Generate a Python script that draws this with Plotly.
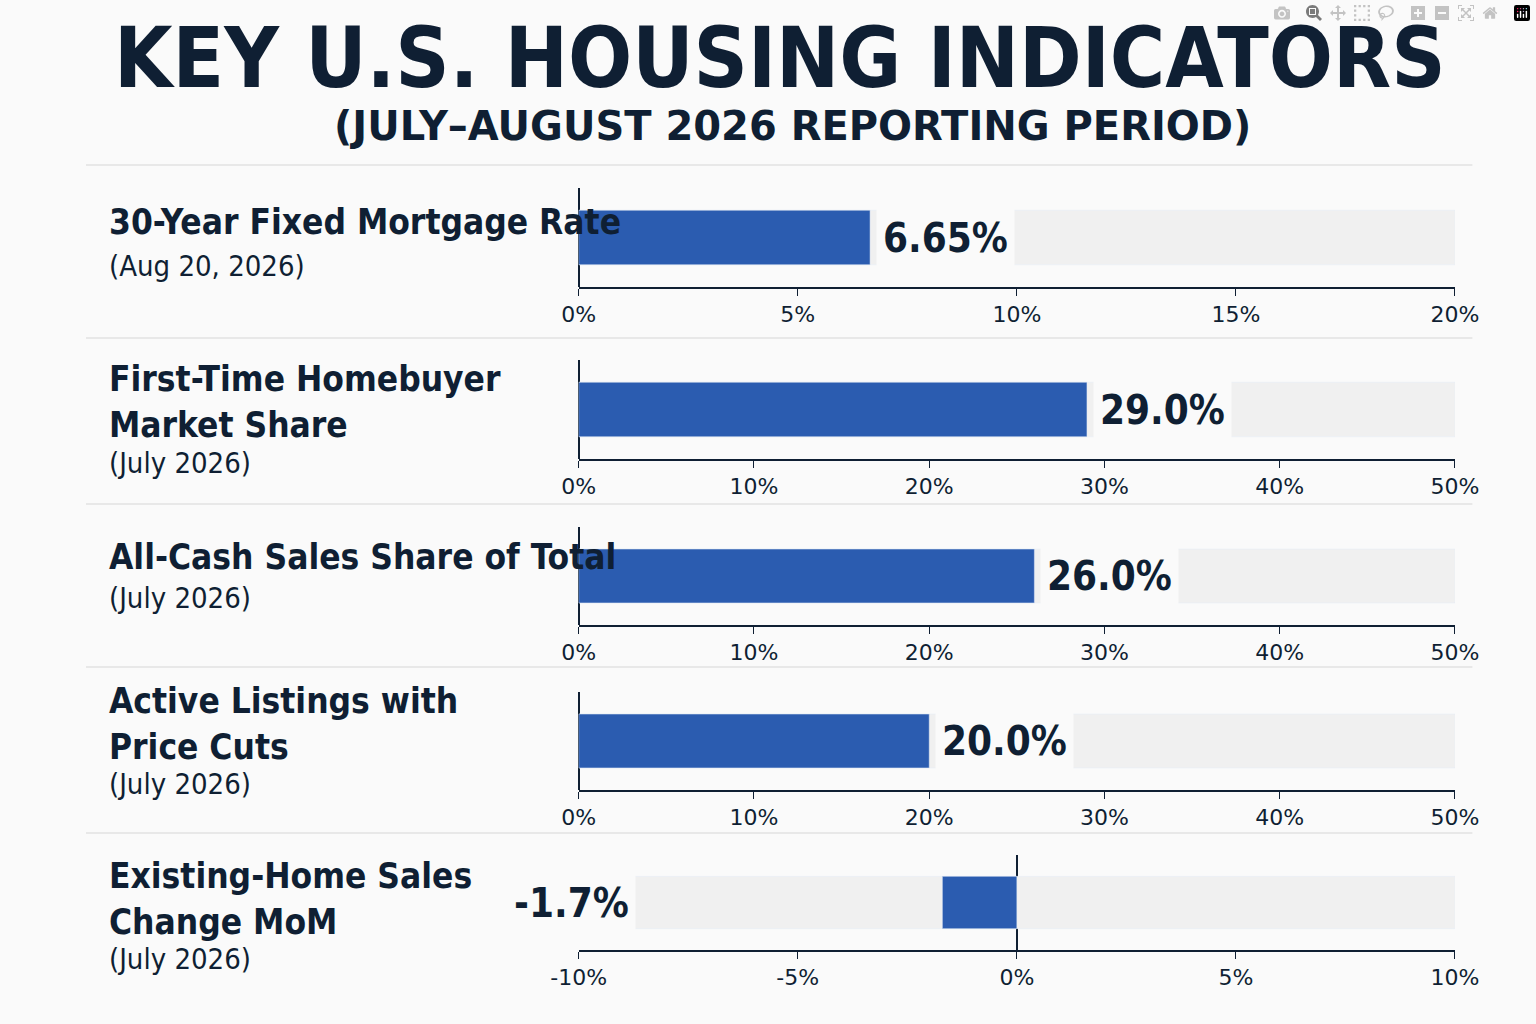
import plotly.graph_objects as go
from plotly.subplots import make_subplots

# data
titles = ["30-Year Fixed Mortgage Rate", "First-Time Homebuyer<br>Market Share",
          "All-Cash Sales Share of Total", "Active Listings with<br>Price Cuts",
          "Existing-Home Sales<br>Change MoM"]
periods = ["(Aug 20, 2026)", "(July 2026)", "(July 2026)", "(July 2026)", "(July 2026)"]
values = [6.65, 29.0, 26.0, 20.0, -1.7]
value_text = ["6.65%", "29.0%", "26.0%", "20.0%", "-1.7%"]
ranges = [[0, 20], [0, 50], [0, 50], [0, 50], [-10, 10]]
tick_vals = [[0, 5, 10, 15, 20], [0, 10, 20, 30, 40, 50], [0, 10, 20, 30, 40, 50],
             [0, 10, 20, 30, 40, 50], [-10, -5, 0, 5, 10]]

W, H = 1536, 1024
BG = "#fafafa"
BLUE = "#2b5cb0"
TRACK = "#f0f0f0"
DARK = "#0f1f33"
FONT = "Liberation Sans Narrow, DejaVu Sans Condensed, Roboto, sans-serif"

# pixel layout: (top of axes, axis line), title top, subtitle y
rows_px = [(188, 287, 200, 266), (360, 459, 357, 463), (527, 625, 535, 598),
           (692, 790, 679, 784), (855, 950, 854, 959)]
dividers = [165, 338, 504, 667, 833]

def py(p):
    return 1 - p / H

fig = make_subplots(rows=5, cols=1)
annotations = []
for i in range(5):
    r = i + 1
    lo, hi = ranges[i]
    fig.add_trace(go.Bar(x=[hi - lo], base=[lo], y=[0], orientation="h", width=0.55,
                         marker=dict(color=TRACK), hoverinfo="skip"), row=r, col=1)
    fig.add_trace(go.Bar(x=[values[i]], y=[0], orientation="h", width=0.55,
                         marker=dict(color=BLUE)), row=r, col=1)
    top, bot, ttop, sy = rows_px[i]
    xa = "xaxis" if r == 1 else f"xaxis{r}"
    ya = "yaxis" if r == 1 else f"yaxis{r}"
    fig.layout[ya].update(domain=[py(bot), py(top)], range=[-0.5, 0.5], visible=False)
    fig.layout[xa].update(domain=[570 / W, 1477 / W], range=[lo, hi], tickvals=tick_vals[i],
                          ticktext=[f"{v}%" for v in tick_vals[i]], ticks="outside", ticklen=7,
                          tickcolor=DARK, showline=True, linecolor=DARK, linewidth=1.5,
                          showgrid=False, zeroline=True, zerolinecolor=DARK, zerolinewidth=1.5,
                          tickfont=dict(size=22, color=DARK, family="DejaVu Sans, sans-serif"))
    xref = "x" if r == 1 else f"x{r}"
    yref = "y" if r == 1 else f"y{r}"
    if values[i] >= 0:
        annotations.append(dict(x=values[i], y=0, xref=xref, yref=yref, xanchor="left",
                                xshift=6, text=f"<b>{value_text[i]}</b>", showarrow=False,
                                bgcolor=BG, borderpad=6, font=dict(size=40, color=DARK, family=FONT)))
    else:
        annotations.append(dict(x=lo + 1.3, y=0, xref=xref, yref=yref, xanchor="right",
                                text=f"<b>{value_text[i]}</b>", showarrow=False,
                                bgcolor=BG, borderpad=6, font=dict(size=40, color=DARK, family=FONT)))
    annotations.append(dict(x=82 / W, y=py(ttop), xref="paper", yref="paper", xanchor="left",
                            yanchor="top", align="left", text=f"<b>{titles[i]}</b>", showarrow=False,
                            font=dict(size=35, color=DARK, family=FONT)))
    annotations.append(dict(x=82 / W, y=py(sy), xref="paper", yref="paper", xanchor="left",
                            yanchor="middle", align="left", text=periods[i], showarrow=False,
                            font=dict(size=29, color=DARK, family=FONT)))

annotations.append(dict(x=0.507, y=py(58), xref="paper", yref="paper", showarrow=False,
                        xanchor="center", yanchor="middle",
                        text="<b>KEY U.S. HOUSING INDICATORS</b>",
                        font=dict(size=84, color=DARK, family=FONT)))
annotations.append(dict(x=0.515, y=py(126), xref="paper", yref="paper", showarrow=False,
                        xanchor="center", yanchor="middle",
                        text="<b>(JULY–AUGUST 2026 REPORTING PERIOD)</b>",
                        font=dict(size=40, color=DARK, family="DejaVu Sans, sans-serif")))

shapes = [dict(type="line", xref="paper", yref="paper", x0=60 / W, x1=1495 / W,
               y0=py(d), y1=py(d), line=dict(color="#e2e2e2", width=1.5)) for d in dividers]

fig.update_layout(width=W, height=H, margin=dict(l=0, r=0, t=0, b=0), barmode="overlay",
                  showlegend=False, plot_bgcolor=BG, paper_bgcolor=BG,
                  annotations=annotations, shapes=shapes)
fig.write_html("out.html", post_script="document.body.style.margin='0';")
